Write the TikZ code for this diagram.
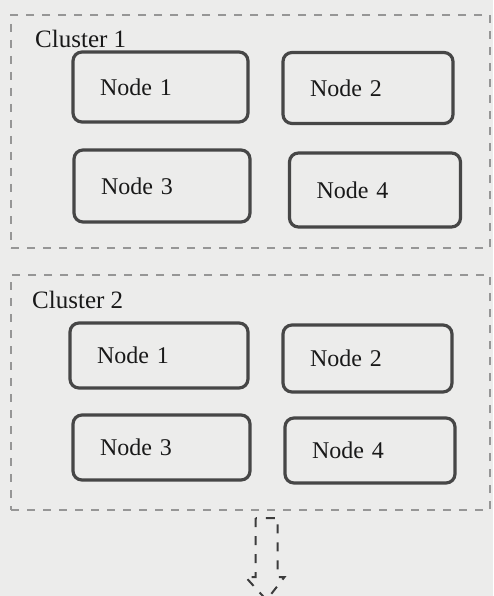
\documentclass[tikz,border=0pt]{standalone}
\usepackage{fontspec}
\setmainfont{Liberation Serif}
\definecolor{paper}{RGB}{236,236,235}
\definecolor{boxline}{RGB}{70,70,70}
\definecolor{clusterline}{RGB}{150,150,150}
\definecolor{arrowline}{RGB}{60,60,60}
\tikzset{
  nodebox/.style={draw=boxline, line width=3.2pt, rounded corners=9pt, rectangle,
    inner xsep=27pt, inner ysep=0pt, align=left, font=\fontsize{24}{28}\selectfont,
    text=black!90},
  clusterbox/.style={draw=clusterline, line width=1.3pt, dash pattern=on 8pt off 8pt, rectangle, inner sep=0pt},
  clusterlabel/.style={anchor=base west, inner sep=0pt, font=\fontsize{25}{29}\selectfont, text=black!90},
  blockarrow/.style={draw=arrowline, line width=2pt, dash pattern=on 9pt off 9pt, line join=miter}
}
\begin{document}
\begin{tikzpicture}[x=1pt, y=-1pt]
\fill[paper] (0,0) rectangle (493,596);
\useasboundingbox (0,0) rectangle (493,596);
\clip (0,0) rectangle (493,596);
% clusters
\node[clusterbox, minimum width=479pt, minimum height=233pt] (c1) at (250.5,131.5) {};
\node[clusterbox, minimum width=479pt, minimum height=235pt] (c2) at (250.5,392.5) {};
\node[clusterlabel] (c1l) at (35,48) {Cluster 1};
\node[clusterlabel] (c2l) at (32,308) {Cluster 2};
% cluster 1 nodes
\node[nodebox, text width=121pt, minimum height=70pt] (a1) at (160.5,87) {Node 1};
\node[nodebox, text width=116pt, minimum height=71pt] (a2) at (368,88) {Node 2};
\node[nodebox, text width=122pt, minimum height=72pt] (a3) at (162,186) {Node 3};
\node[nodebox, text width=117pt, minimum height=74pt] (a4) at (375,190) {Node 4};
% cluster 2 nodes
\node[nodebox, text width=124pt, minimum height=65pt] (b1) at (159,355.5) {Node 1};
\node[nodebox, text width=115pt, minimum height=67pt] (b2) at (367.5,358.5) {Node 2};
\node[nodebox, text width=123pt, minimum height=65pt] (b3) at (161.5,447.5) {Node 3};
\node[nodebox, text width=116pt, minimum height=65pt] (b4) at (370,450.5) {Node 4};
% dashed block arrow below cluster 2
\coordinate (arrowtop) at (266.5,518);
\draw[blockarrow] ([xshift=-11pt]arrowtop) -- ([xshift=-11pt,yshift=-59pt]arrowtop)
  -- ([xshift=-21pt,yshift=-59pt]arrowtop) -- ([yshift=-82pt]arrowtop)
  -- ([xshift=18pt,yshift=-59pt]arrowtop) -- ([xshift=11pt,yshift=-59pt]arrowtop)
  -- ([xshift=11pt]arrowtop) -- cycle;
\end{tikzpicture}
\end{document}
